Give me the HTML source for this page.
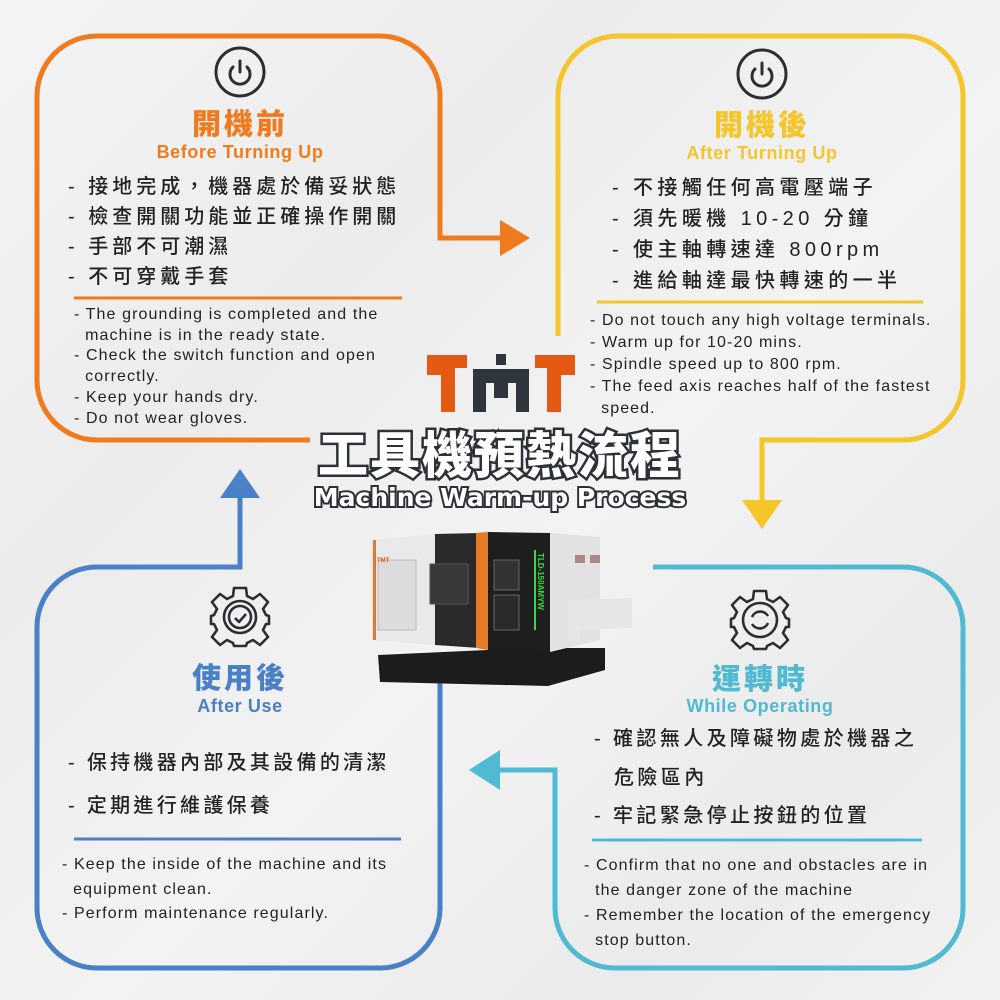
<!DOCTYPE html>
<html><head><meta charset="utf-8">
<style>
*{margin:0;padding:0;box-sizing:border-box}
body{width:1000px;height:1000px;overflow:hidden;position:relative;background:linear-gradient(135deg,#f4f4f4 0%,#ececec 30%,#f3f3f3 55%,#ebebeb 80%,#f2f2f2 100%);font-family:"Liberation Sans","Noto Sans CJK TC",sans-serif;color:#222}
.a{position:absolute;white-space:nowrap}
.h{font-family:"Noto Sans CJK TC",sans-serif;font-weight:900;font-size:29px;letter-spacing:3px;text-align:center;line-height:32px}
.s{font-weight:bold;font-size:18px;letter-spacing:0.6px;text-align:center;line-height:20px}
.b{font-family:"Liberation Sans","Noto Sans CJK TC",sans-serif;font-weight:500;font-size:20px;letter-spacing:4px;line-height:30px;color:#222}
.e{font-size:16px;letter-spacing:1.1px;line-height:20.7px;color:#222}
</style></head><body>
<svg class="a" style="left:0;top:0" width="1000" height="1000" viewBox="0 0 1000 1000">
<g fill="none" stroke-width="5">
<path d="M310 440 H97 A60 60 0 0 1 37 380 V96 A60 60 0 0 1 97 36 H380 A60 60 0 0 1 440 96 V238 H502" stroke="#f07a1c"/>
<path d="M558 336 V96 A60 60 0 0 1 618 36 H903 A60 60 0 0 1 963 96 V380 A60 60 0 0 1 903 440 H762 V502" stroke="#f5c52a"/>
<path d="M440 673 V908 A60 60 0 0 1 380 968 H97 A60 60 0 0 1 37 908 V627 A60 60 0 0 1 97 567 H240 V498" stroke="#4a80c6"/>
<path d="M653 567 H903 A60 60 0 0 1 963 627 V908 A60 60 0 0 1 903 968 H615 A60 60 0 0 1 555 908 V770 H500" stroke="#4fbad2"/>
</g>
<polygon points="500,220 530,238 500,256" fill="#f07a1c"/>
<polygon points="742,500 782,500 762,529" fill="#f5c52a"/>
<polygon points="220,498 260,498 240,469" fill="#4a80c6"/>
<polygon points="500,750 500,790 469,770" fill="#4fbad2"/>
<g stroke-width="3">
<line x1="74" y1="298" x2="402" y2="298" stroke="#f07a1c"/>
<line x1="597" y1="302" x2="923" y2="302" stroke="#f5c52a"/>
<line x1="74" y1="839" x2="401" y2="839" stroke="#4a80c6"/>
<line x1="592" y1="840" x2="922" y2="840" stroke="#4fbad2"/>
</g>
<g fill="none" stroke="#2b2f33" stroke-width="3" stroke-linecap="round">
<circle cx="240" cy="72" r="24"/><path d="M233 67 A10 10 0 1 0 247 67 M240 61 V72"/>
<circle cx="762" cy="74" r="24"/><path d="M755 69 A10 10 0 1 0 769 69 M762 63 V74"/>
</g>
<g fill="none" stroke="#2b2f33" stroke-width="2.6" stroke-linejoin="round">
<g transform="translate(240,617)">
<path d="M-6 -29 H6 L7 -21 L13 -18 L20 -23 L28 -15 L23 -8 L26 -2 L29 -1 V7 L26 7 L23 13 L28 20 L20 28 L13 23 L7 26 L6 29 H-6 L-7 26 L-13 23 L-20 28 L-28 20 L-23 13 L-26 7 L-29 7 V-1 L-26 -2 L-23 -8 L-28 -15 L-20 -23 L-13 -18 L-7 -21 Z"/>
<circle r="16"/><circle r="11"/><path d="M-5 1 L-1 5 L6 -3"/>
</g>
<g transform="translate(760,620)">
<path d="M-6 -29 H6 L7 -21 L13 -18 L20 -23 L28 -15 L23 -8 L26 -2 L29 -1 V7 L26 7 L23 13 L28 20 L20 28 L13 23 L7 26 L6 29 H-6 L-7 26 L-13 23 L-20 28 L-28 20 L-23 13 L-26 7 L-29 7 V-1 L-26 -2 L-23 -8 L-28 -15 L-20 -23 L-13 -18 L-7 -21 Z"/>
<circle r="17"/><path d="M-8 -3 A9 9 0 0 1 8 -4 M8 3 A9 9 0 0 1 -8 4"/>
</g>
</g>
<g>
<path d="M427 355 H467 V368 H455 V412 H441 V375 H427 Z" fill="#e55a12"/>
<path d="M535 355 H575 V375 H561 V412 H547 V368 H535 Z" fill="#e55a12"/>
<rect x="496" y="354" width="10" height="11" fill="#2e353d"/>
<path d="M473 369 H529 V412 H516 V383 H508 V398 H494 V383 H486 V412 H473 Z" fill="#2e353d"/>
</g>
<g>
<path d="M378 655 L380 682 L548 686 L605 670 L605 648 L530 648 Z" fill="#1c1c1c"/>
<path d="M370 540 L435 534 L435 645 L372 640 Z" fill="#e9e9e9"/>
<rect x="373" y="540" width="3" height="100" fill="#e07a2a"/>
<rect x="378" y="560" width="38" height="70" fill="#dcdcdc" stroke="#bbb" stroke-width="1"/>
<path d="M435 534 L480 533 L480 648 L435 645 Z" fill="#2a2a2a"/>
<rect x="430" y="564" width="38" height="40" fill="#383838" stroke="#555"/>
<path d="M476 533 L488 532 L488 650 L476 648 Z" fill="#e87a24"/>
<path d="M488 532 L550 533 L550 652 L488 650 Z" fill="#1e1e1e"/>
<rect x="494" y="560" width="25" height="30" fill="#333" stroke="#666"/>
<rect x="494" y="595" width="25" height="35" fill="#2a2a2a" stroke="#666"/>
<rect x="534" y="550" width="2" height="80" fill="#33dd33"/>
<path d="M550 533 L600 537 L600 640 L550 652 Z" fill="#e2e2e2"/>
<path d="M568 600 L632 598 L632 628 L580 630 L580 640 L568 640 Z" fill="#e6e6e6"/>
<rect x="575" y="555" width="10" height="8" fill="#a88"/>
<rect x="590" y="555" width="10" height="8" fill="#a88"/>
</g>
<text x="377" y="562" font-size="6" fill="#e55a12" font-family="Liberation Sans" font-weight="bold">TMT</text>
<text transform="translate(538,553) rotate(90)" font-size="8" fill="#33dd33" font-family="Liberation Sans" font-weight="bold">TLD-150AMYW</text>
</svg>

<div class="a" style="left:300px;top:420px;width:400px;text-align:center;font-family:'Noto Sans CJK TC',sans-serif;font-weight:900;font-size:50px;letter-spacing:2px;line-height:64px;color:#fff;-webkit-text-stroke:5px #2c3137;paint-order:stroke fill">工具機預熱流程</div>
<div class="a" style="left:300px;top:480px;width:400px;text-align:center;font-family:'DejaVu Sans',sans-serif;font-weight:bold;font-size:25px;line-height:36px;color:#fff;-webkit-text-stroke:4px #2c3137;paint-order:stroke fill">Machine Warm-up Process</div>

<div class="a h" style="left:140px;top:106px;width:200px;color:#f07a1c">開機前</div>
<div class="a s" style="left:140px;top:142px;width:200px;color:#f07a1c">Before Turning Up</div>
<div class="a b" style="left:68px;top:172px">- 接地完成，機器處於備妥狀態<br>- 檢查開關功能並正確操作開關<br>- 手部不可潮濕<br>- 不可穿戴手套</div>
<div class="a e" style="left:74px;top:305px">- The grounding is completed and the<br>&nbsp;&nbsp;machine is in the ready state.<br>- Check the switch function and open<br>&nbsp;&nbsp;correctly.<br>- Keep your hands dry.<br>- Do not wear gloves.</div>

<div class="a h" style="left:662px;top:107px;width:200px;color:#f5c52a">開機後</div>
<div class="a s" style="left:662px;top:143px;width:200px;color:#f5c52a">After Turning Up</div>
<div class="a b" style="left:612px;top:173px;letter-spacing:4.4px;line-height:31px">- 不接觸任何高電壓端子<br>- 須先暖機 10-20 分鐘<br>- 使主軸轉速達 800rpm<br>- 進給軸達最快轉速的一半</div>
<div class="a e" style="left:590px;top:310px;line-height:22px">- Do not touch any high voltage terminals.<br>- Warm up for 10-20 mins.<br>- Spindle speed up to 800 rpm.<br>- The feed axis reaches half of the fastest<br>&nbsp;&nbsp;speed.</div>

<div class="a h" style="left:140px;top:660px;width:200px;color:#4a80c6">使用後</div>
<div class="a s" style="left:140px;top:696px;width:200px;color:#4a80c6">After Use</div>
<div class="a b" style="left:68px;top:742px;line-height:43px;letter-spacing:3.3px">- 保持機器內部及其設備的清潔<br>- 定期進行維護保養</div>
<div class="a e" style="left:62px;top:853px;line-height:24.5px">- Keep the inside of the machine and its<br>&nbsp;&nbsp;equipment clean.<br>- Perform maintenance regularly.</div>

<div class="a h" style="left:660px;top:661px;width:200px;color:#4fbad2">運轉時</div>
<div class="a s" style="left:660px;top:696px;width:200px;color:#4fbad2">While Operating</div>
<div class="a b" style="left:594px;top:720px;line-height:38.5px;letter-spacing:3.4px">- 確認無人及障礙物處於機器之<br><span style="padding-left:20px">危險區內</span><br>- 牢記緊急停止按鈕的位置</div>
<div class="a e" style="left:584px;top:853px;line-height:25px">- Confirm that no one and obstacles are in<br>&nbsp;&nbsp;the danger zone of the machine<br>- Remember the location of the emergency<br>&nbsp;&nbsp;stop button.</div>
</body></html>
